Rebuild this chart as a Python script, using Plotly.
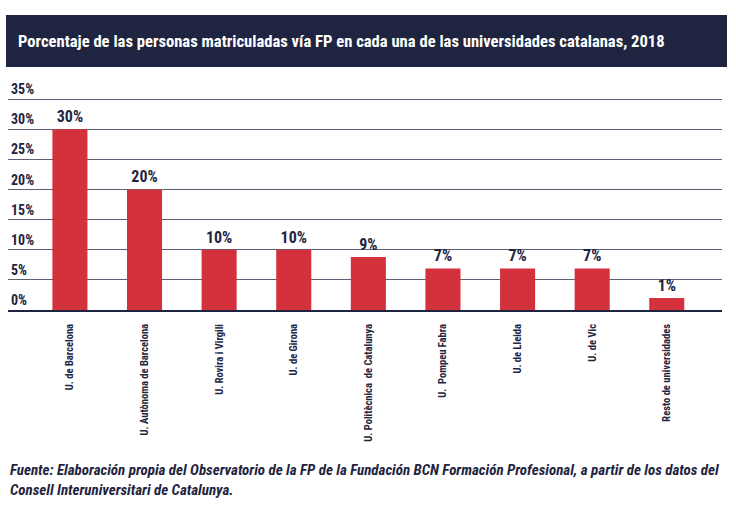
import plotly.graph_objects as go

categories = [
    "U. de Barcelona",
    "U. Autònoma de Barcelona",
    "U. Rovira i Virgili",
    "U. de Girona",
    "U. Politècnica  de Catalunya",
    "U.  Pompeu Fabra",
    "U. de Lleida",
    "U. de Vic",
    "Resto de universidades",
]
values = [30, 20, 10, 10, 8.8, 6.9, 6.9, 6.9, 2.0]
value_labels = ["30%", "20%", "10%", "10%", "9%", "7%", "7%", "7%", "1%"]
y_ticks = [0, 5, 10, 15, 20, 25, 30, 35]
y_tick_labels = ["0%", "5%", "10%", "15%", "20%", "25%", "30%", "35%"]

title_text = "Porcentaje de las personas matriculadas vía FP en cada una de las universidades catalanas, 2018"
source_text = ("<i><b>Fuente: Elaboración propia del Observatorio de la FP de la Fundación BCN Formación Profesional, "
               "a partir de los datos del<br>Consell Interuniversitari de Catalunya.</b></i>")

NAVY = "#1f2540"
RED = "#d3323c"
FONT = "Roboto Condensed, Liberation Sans Narrow, DejaVu Sans Condensed, sans-serif"

W, H = 736, 508
ML, MR, MT, MB = 8, 14, 75, 198
plot_w = W - ML - MR
plot_h = H - MT - MB


def py(px):
    """pixel row -> paper y"""
    return (MT + plot_h - px) / plot_h


fig = go.Figure()
fig.add_trace(go.Bar(
    x=list(range(len(categories))),
    y=values,
    width=0.47,
    marker=dict(color=RED, line=dict(width=0)),
    text=value_labels,
    textposition="outside",
    cliponaxis=False,
    textfont=dict(family=FONT, size=16, color=NAVY, weight="bold"),
    hoverinfo="skip",
))

# title band
fig.add_shape(type="rect", xref="paper", yref="paper",
              x0=(6 - ML) / plot_w, x1=(727 - ML) / plot_w,
              y0=py(67), y1=py(15),
              fillcolor=NAVY, line=dict(width=0), layer="above")

fig.add_annotation(text="<b>" + title_text + "</b>", xref="paper", yref="paper",
                   x=(16 - ML) / plot_w, y=py(41),
                   xanchor="left", yanchor="middle", showarrow=False,
                   font=dict(family=FONT, size=16.6, color="white"))

fig.add_annotation(text=source_text, xref="paper", yref="paper",
                   x=0, y=py(480),
                   xanchor="left", yanchor="middle", showarrow=False, align="left",
                   font=dict(family=FONT, size=15, color=NAVY))

fig.update_layout(
    width=W, height=H,
    margin=dict(l=ML, r=MR, t=MT, b=MB, autoexpand=False),
    paper_bgcolor="white", plot_bgcolor="white",
    showlegend=False,
    xaxis=dict(
        range=[-0.83, 8.74],
        tickmode="array", tickvals=list(range(len(categories))), ticktext=categories,
        tickangle=-90,
        tickfont=dict(family=FONT, size=10.5, color=NAVY, weight="bold"),
        showline=True, linecolor=NAVY, linewidth=1.6,
        showgrid=False, ticks="", ticklabelstandoff=8,
        zeroline=False, fixedrange=True, automargin=False,
    ),
    yaxis=dict(
        range=[0, 39],
        tickmode="array", tickvals=y_ticks, ticktext=y_tick_labels,
        ticklabelposition="inside top",
        tickfont=dict(family=FONT, size=14, color=NAVY, weight="bold"),
        showgrid=True, gridcolor="#5c6072", gridwidth=1.2,
        zeroline=False, showline=False, ticks="", fixedrange=True, automargin=False,
    ),
)

fig.write_html("out.html", config={"displayModeBar": False},
               post_script="document.body.style.margin='0';")
